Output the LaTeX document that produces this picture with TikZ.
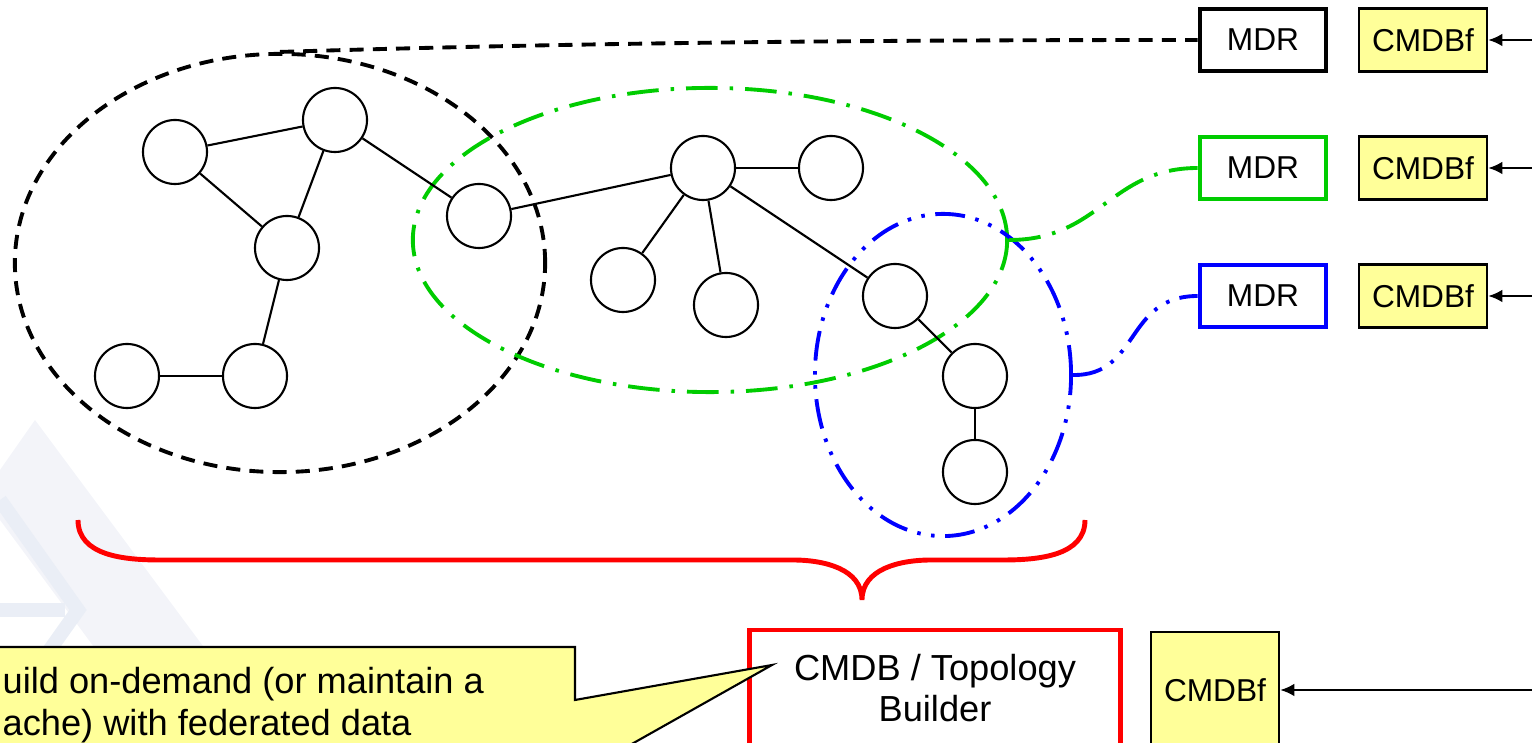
\documentclass[tikz,border=0pt]{standalone}
\usepackage{fontspec}
\setmainfont{Liberation Sans}
\usetikzlibrary{shapes.geometric,arrows.meta}

\definecolor{setgreen}{RGB}{0,204,0}
\definecolor{notefill}{RGB}{255,255,153}
\definecolor{markfaint}{RGB}{234,238,246}
\definecolor{bandfaint}{RGB}{243,244,249}

\begin{document}
\begin{tikzpicture}[x=0.01cm, y=-0.01cm,
		vertex/.style={circle, draw, line width=0.6pt, fill=white, minimum size=0.64cm, inner sep=0pt},
		link/.style={line width=0.6pt},
		setline/.style={draw, ellipse, line width=1.1pt, inner sep=0pt},
		blackdash/.style={dash pattern=on 4pt off 2.6pt},
		greendash/.style={dash pattern=on 9pt off 3.4pt on 1pt off 3.4pt},
		bluedash/.style={dash pattern=on 8.5pt off 3pt on 1pt off 3pt on 1pt off 3pt},
		mdrbox/.style={draw, line width=1.3pt, fill=white, minimum width=1.26cm, minimum height=0.62cm, inner sep=0pt, font=\fontsize{9}{11}\selectfont},
		fedbox/.style={draw, line width=0.7pt, fill=notefill, minimum width=1.28cm, minimum height=0.63cm, inner sep=0pt, font=\fontsize{9}{11}\selectfont},
		feed/.style={line width=0.6pt, -{Latex[length=4pt, width=3.6pt]}}]

	\useasboundingbox (0,0) rectangle (1532,743);
	\clip (0,0) rectangle (1532,743);

	% faint backdrop
	\fill[bandfaint] (35,420) -- (275,743) -- (165,743) -- (0,520) -- (0,470) -- cycle;
	\draw[markfaint, line width=4pt] (0,610) -- (65,610);
	\draw[markfaint, line width=4pt] (0,500) -- (78,610) -- (0,720);

	% the three sets
	\node[setline, blackdash, minimum width=5.30cm, minimum height=4.18cm] (blackset) at (280,263) {};
	\node[setline, greendash, draw=setgreen, minimum width=5.94cm, minimum height=3.04cm] (greenset) at (710,240) {};
	\node[setline, bluedash, draw=blue, minimum width=2.56cm, minimum height=3.22cm] (blueset) at (943,375) {};

	% resources
	\node[vertex] (a) at (175,152) {};
	\node[vertex] (b) at (335,120) {};
	\node[vertex] (c) at (287,248) {};
	\node[vertex] (d) at (127,376) {};
	\node[vertex] (e) at (255,376) {};
	\node[vertex] (f) at (479,216) {};
	\node[vertex] (g) at (703,168) {};
	\node[vertex] (h) at (831,168) {};
	\node[vertex] (i) at (623,280) {};
	\node[vertex] (j) at (726,305) {};
	\node[vertex] (k) at (895,296) {};
	\node[vertex] (l) at (975,376) {};
	\node[vertex] (m) at (975,472) {};

	\draw[link] (a) -- (b);
	\draw[link] (a) -- (c);
	\draw[link] (b) -- (c);
	\draw[link] (b) -- (f);
	\draw[link] (c) -- (e);
	\draw[link] (d) -- (e);
	\draw[link] (f) -- (g);
	\draw[link] (g) -- (h);
	\draw[link] (g) -- (i);
	\draw[link] (g) -- (j);
	\draw[link] (g) -- (k);
	\draw[link] (k) -- (l);
	\draw[link] (l) -- (m);

	% repositories
	\node[mdrbox] (mdrblack) at (1263,40) {MDR};
	\node[mdrbox, draw=setgreen] (mdrgreen) at (1263,168) {MDR};
	\node[mdrbox, draw=blue] (mdrblue) at (1263,296) {MDR};
	\node[fedbox] (fedone) at (1423,40) {CMDBf};
	\node[fedbox] (fedtwo) at (1423,168) {CMDBf};
	\node[fedbox] (fedthree) at (1423,296) {CMDBf};
	\coordinate (srcone) at (1532,40);
	\coordinate (srctwo) at (1532,168);
	\coordinate (srcthree) at (1532,296);
	\draw[feed] (srcone) -- (fedone);
	\draw[feed] (srctwo) -- (fedtwo);
	\draw[feed] (srcthree) -- (fedthree);

	\draw[line width=1.1pt, blackdash] (blackset.north) .. controls (600,42) and (900,40) .. (mdrblack.west);
	\draw[line width=1.1pt, greendash, setgreen] (greenset.east) .. controls (1100,240) and (1110,168) .. (mdrgreen.west);
	\draw[line width=1.1pt, bluedash, blue] (blueset.east) .. controls (1140,376) and (1125,296) .. (mdrblue.west);

	% brace
	\draw[red, line width=1.4pt] (78,520) to[out=-90,in=180] (160,560) -- (793,560) to[out=0,in=90] (862,600)
		to[out=90,in=180] (931,560) -- (1003,560) to[out=0,in=-90] (1085,520);

	% builder
	\node[draw=red, line width=1.4pt, minimum width=3.70cm, minimum height=1.16cm, align=center, font=\fontsize{10.3}{11.7}\selectfont] (builder) at (935,688) {CMDB / Topology\\Builder};
	\node[fedbox, minimum height=1.16cm] (fedfour) at (1215,690) {CMDBf};
	\coordinate (srcfour) at (1532,690);
	\draw[feed] (srcfour) -- (fedfour);

	% callout
	\filldraw[fill=notefill, line width=0.6pt] (-5,647) -- (575,647) -- (575,700) -- (772,665) -- (575,776) -- (575,800) -- (-5,800) -- cycle;
	\node[anchor=west, align=left, inner sep=0pt, font=\fontsize{10.3}{11.9}\selectfont] (note) at (2,705) {uild on-demand (or maintain a\\ache) with federated data};
\end{tikzpicture}
\end{document}
